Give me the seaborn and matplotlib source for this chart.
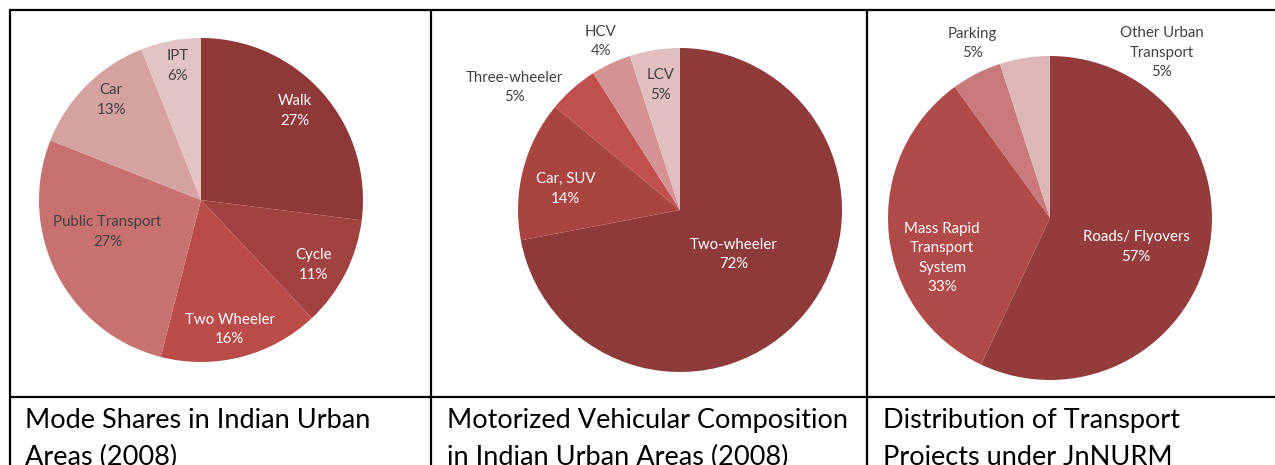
import numpy as np
import seaborn as sns
import matplotlib.pyplot as plt
from matplotlib.lines import Line2D

# Data
mode_labels = ["Walk", "Cycle", "Two Wheeler", "Public Transport", "Car", "IPT"]
mode_shares = [27, 11, 16, 27, 13, 6]

vehicle_labels = ["Two-wheeler", "Car, SUV", "Three-wheeler", "HCV", "LCV"]
vehicle_shares = [72, 14, 5, 4, 5]

project_labels = ["Roads/ Flyovers", "Mass Rapid\nTransport\nSystem", "Parking", "Other Urban\nTransport"]
project_shares = [57, 33, 5, 5]

captions = [
    ("Mode Shares in Indian Urban", "Areas (2008)"),
    ("Motorized Vehicular Composition", "in Indian Urban Areas (2008)"),
    ("Distribution of Transport", "Projects under JnNURM"),
]

sns.set_theme(style="white")
plt.rcParams['font.family'] = ['Lato', 'DejaVu Sans']

W, H = 1275, 465
fig = plt.figure(figsize=(W / 100, H / 100), dpi=100)

# colours per pie
mode_colors = sns.color_palette(["#8E3837", "#A14140", "#B94C49", "#C87171", "#D5A1A1", "#E3C3C3"])
vehicle_colors = sns.color_palette(["#8E3A3A", "#A94441", "#C0504D", "#D49292", "#E1BFBF"])
project_colors = sns.color_palette(["#943C3C", "#B04A48", "#C87979", "#DDB6B6"])

WHITE, GRAY = "white", "#404040"

# (radius fraction, angle shift, text colour) for each label
mode_style = [(0.80, 2, WHITE), (0.80, -3, WHITE), (0.82, -2, WHITE),
              (0.61, -8, GRAY), (0.83, -3, GRAY), (0.84, -1, GRAY)]
vehicle_style = [(0.43, 0, WHITE), (0.72, 4, WHITE), (1.27, 12, GRAY),
                 (1.15, 0, GRAY), (0.78, 0, GRAY)]
project_style = [(0.56, -6, WHITE), (0.71, 15, WHITE), (1.18, -3, GRAY),
                 (1.23, -43, GRAY)]

panels = [
    (mode_labels, mode_shares, mode_colors, mode_style, (201, 200)),
    (vehicle_labels, vehicle_shares, vehicle_colors, vehicle_style, (680, 210)),
    (project_labels, project_shares, project_colors, project_style, (1050, 218)),
]
R = 162

for labels, shares, colors, style, (cx, cy) in panels:
    ax = fig.add_axes([(cx - R) / W, (H - cy - R) / H, 2 * R / W, 2 * R / H])
    wedges, _ = ax.pie(shares, colors=colors, startangle=90, counterclock=False,
                       radius=1, wedgeprops=dict(linewidth=0))
    total = sum(shares)
    for w, lab, val, (rf, dth, col) in zip(wedges, labels, shares, style):
        ang = np.deg2rad((w.theta1 + w.theta2) / 2 + dth)
        ax.text(rf * np.cos(ang), rf * np.sin(ang), f"{lab}\n{round(100 * val / total)}%",
                ha="center", va="center", fontsize=10.8, color=col, linespacing=1.5)
    ax.set_xlim(-1, 1)
    ax.set_ylim(-1, 1)
    ax.set_aspect("equal")
    ax.axis("off")

# table grid
def hline(y, x0, x1):
    fig.add_artist(Line2D([x0 / W, x1 / W], [1 - y / H, 1 - y / H], color="black", lw=1.6))

def vline(x, y0, y1):
    fig.add_artist(Line2D([x / W, x / W], [1 - y0 / H, 1 - y1 / H], color="black", lw=1.6))

hline(10, 10, W)
hline(397, 10, W)
for x in (10, 431, 867):
    vline(x, 10, H)

# captions: second line is cut by the bottom edge, as in the original table crop
for x, (line1, line2) in zip((25, 447, 883), captions):
    fig.text(x / W, 1 - 428 / H, line1, ha="left", va="baseline", fontsize=19.5, color="black")
    fig.text(x / W, 1 - 465 / H, line2, ha="left", va="baseline", fontsize=19.5, color="black")

fig.savefig("out.png", dpi=100)
